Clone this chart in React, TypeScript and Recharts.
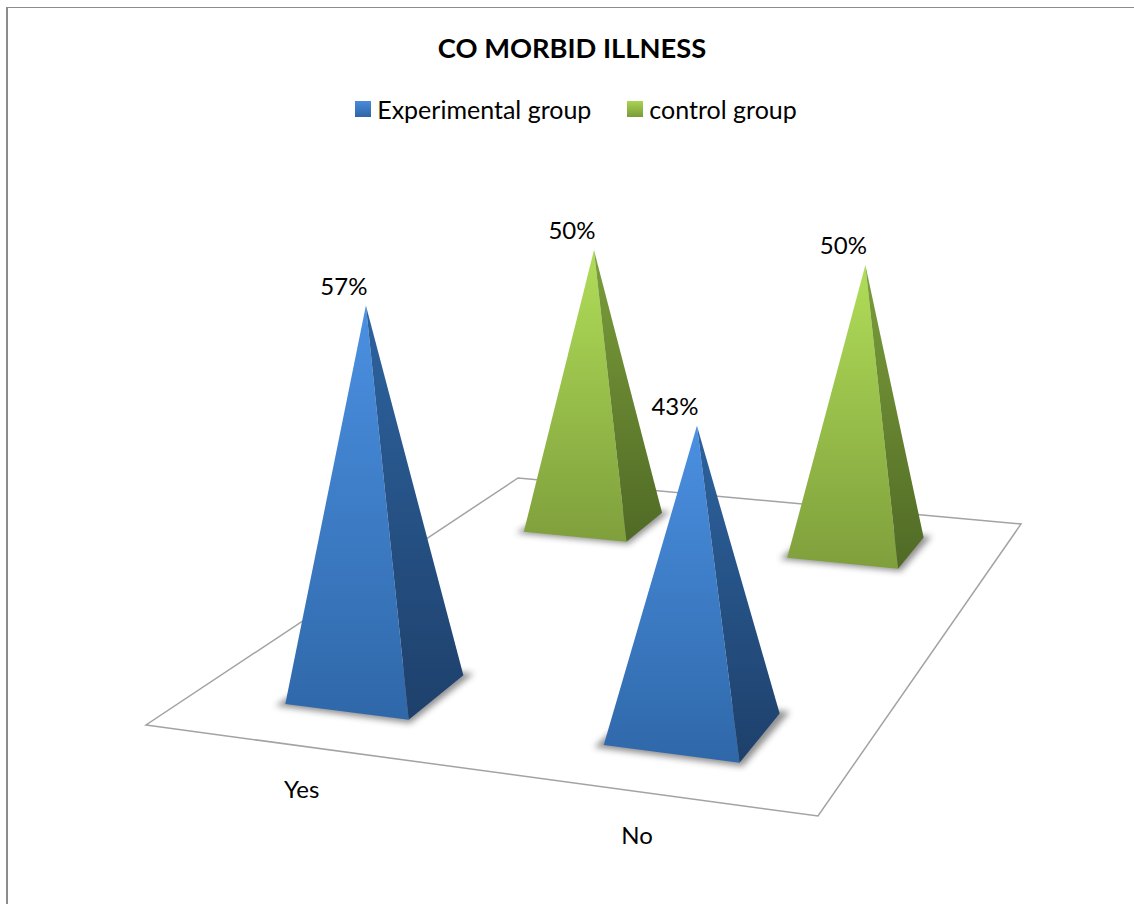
import React from 'react';
import { BarChart, Bar, XAxis, YAxis, Legend } from 'recharts';

const categories = ['Yes', 'No'];
const experimentalGroup = [57, 43];
const controlGroup = [50, 50];

const chartData = categories.map((name, i) => ({
  name,
  experimental: experimentalGroup[i],
  control: controlGroup[i],
}));

const WIDTH = 1134;
const HEIGHT = 904;
const PLOT_LEFT = 146;
const PLOT_WIDTH = 672;
const BAR_SIZE = 134;
const FONT = 'Lato, sans-serif';

// Floor of the 3D box, front-left corner first, going anticlockwise on screen
const FLOOR = [[146, 725], [818, 816], [1021, 524], [518, 478]];

// Maps floor coordinates (u along the categories, v along the series depth) to the screen
const makeFloorProjection = () => {
  const [[x0, y0], [x1, y1], [x2, y2], [x3, y3]] = FLOOR;
  const dx1 = x1 - x2, dx2 = x3 - x2, sx = x0 - x1 + x2 - x3;
  const dy1 = y1 - y2, dy2 = y3 - y2, sy = y0 - y1 + y2 - y3;
  const den = dx1 * dy2 - dx2 * dy1;
  const g = (sx * dy2 - dx2 * sy) / den;
  const h = (dx1 * sy - sx * dy1) / den;
  const a = x1 - x0 + g * x1, b = x3 - x0 + h * x3;
  const d = y1 - y0 + g * y1, e = y3 - y0 + h * y3;
  return (u: number, v: number) => {
    const w = g * u + h * v + 1;
    return { x: (a * u + b * v + x0) / w, y: (d * u + e * v + y0) / w, w };
  };
};
const project = makeFloorProjection();

const pts = (list: { x: number; y: number }[]) => list.map((p) => `${p.x},${p.y}`).join(' ');

type Palette = { front: string; side: string };

// Pyramid standing on the floor; its height comes from the bar height the y scale gave
const Pyramid = (props: any, depth: number, colors: Palette) => {
  const { x, width, height, value } = props;
  const uC = (x + width / 2 - PLOT_LEFT) / PLOT_WIDTH;
  const halfU = width / PLOT_WIDTH / 2;
  const halfV = 0.07;

  const fl = project(uC - halfU, depth - halfV);
  const fr = project(uC + halfU, depth - halfV);
  const br = project(uC + halfU, depth + halfV);
  const bl = project(uC - halfU, depth + halfV);
  const c = project(uC, depth);

  // verticals converge slightly towards the top of the box
  const h = height / c.w;
  const apex = { x: c.x + (c.x - 590) * h * 0.00012, y: c.y - h };

  const sf = project(uC - halfU * 1.1, depth - halfV * 1.12);
  const sr = project(uC + halfU * 1.08, depth - halfV * 1.12);
  const sb = project(uC + halfU * 1.12, depth + halfV * 1.12);
  const shadow = [sf, sr, sb, bl];

  return (
    <g>
      <polygon points={pts(shadow)} fill="#555" opacity={0.65} filter="url(#floorShadow)" />
      <polygon points={pts([fl, fr, apex])} fill={`url(#${colors.front})`} />
      <polygon points={pts([fr, br, apex])} fill={`url(#${colors.side})`} />
      <text
        x={apex.x - 22}
        y={apex.y - 17}
        textAnchor="middle"
        dominantBaseline="middle"
        fontFamily={FONT}
        fontSize={24}
        fill="#000"
      >
        {value}%
      </text>
    </g>
  );
};

const CategoryTick = (props: any) => {
  const { x, payload } = props;
  const edge = project((x - PLOT_LEFT) / PLOT_WIDTH, 0);
  return (
    <text
      x={edge.x}
      y={edge.y + 46}
      textAnchor="middle"
      dominantBaseline="middle"
      fontFamily={FONT}
      fontSize={24}
      fill="#000"
    >
      {payload.value}
    </text>
  );
};

// Series are painted back to front, the legend still lists the experimental group first
const GroupLegend = ({ payload }: any) => {
  const items = [...(payload || [])].sort((a: any) => (a.dataKey === 'experimental' ? -1 : 1));
  return (
    <div style={{ display: 'flex', justifyContent: 'center', gap: 36, fontFamily: FONT, fontSize: 25, paddingLeft: 18 }}>
      {items.map((item: any) => (
        <span key={item.value} style={{ display: 'flex', alignItems: 'center', gap: 6, color: '#000' }}>
          <span
            style={{
              width: 16,
              height: 16,
              background:
                item.dataKey === 'experimental'
                  ? 'linear-gradient(#4a8bdc, #2f65a5)'
                  : 'linear-gradient(#a9d452, #7b9a3a)',
            }}
          />
          {item.value}
        </span>
      ))}
    </div>
  );
};

const App: React.FC = () => (
  <div style={{ position: 'absolute', left: 0, top: 0, width: WIDTH, height: HEIGHT, overflow: 'hidden', background: '#fff' }}>
    <div style={{ position: 'absolute', left: 6, top: 7, right: 0, bottom: 0, borderLeft: '2px solid #8c8c8c', borderTop: '1.5px solid #8c8c8c' }} />
    <BarChart
      width={WIDTH}
      height={HEIGHT}
      data={chartData}
      margin={{ top: 100, left: PLOT_LEFT, right: WIDTH - PLOT_LEFT - PLOT_WIDTH, bottom: 324 }}
      barSize={BAR_SIZE}
      barGap={-BAR_SIZE}
      style={{ position: 'absolute', left: 0, top: 0 }}
    >
      <defs>
        <linearGradient id="blueFront" x1="0" y1="0" x2="0" y2="1">
          <stop offset="0" stopColor="#4b90e2" />
          <stop offset="1" stopColor="#2f68a9" />
        </linearGradient>
        <linearGradient id="blueSide" x1="0" y1="0" x2="0" y2="1">
          <stop offset="0" stopColor="#2d639f" />
          <stop offset="1" stopColor="#1e406b" />
        </linearGradient>
        <linearGradient id="greenFront" x1="0" y1="0" x2="0" y2="1">
          <stop offset="0" stopColor="#b0dd58" />
          <stop offset="1" stopColor="#7f9f3c" />
        </linearGradient>
        <linearGradient id="greenSide" x1="0" y1="0" x2="0" y2="1">
          <stop offset="0" stopColor="#7c9e3b" />
          <stop offset="1" stopColor="#506a25" />
        </linearGradient>
        <filter id="floorShadow" x="-20%" y="-20%" width="140%" height="140%">
          <feGaussianBlur stdDeviation="3" />
        </filter>
      </defs>
      <text x={572} y={51} textAnchor="middle" dominantBaseline="middle" fontFamily={FONT} fontSize={27.3} fontWeight={700} fill="#000">
        CO MORBID ILLNESS
      </text>
      <polygon points={FLOOR.map((p) => p.join(',')).join(' ')} fill="none" stroke="#a3a3a3" strokeWidth={1.5} />
      <XAxis dataKey="name" height={30} axisLine={false} tickLine={false} tick={CategoryTick} />
      <YAxis hide domain={[0, 60]} />
      <Legend
        verticalAlign="top"
        height={30}
        content={GroupLegend}
        wrapperStyle={{ top: 94, left: 0, width: WIDTH - 0 }}
      />
      <Bar
        dataKey="control"
        name="control group"
        fill="#9bbb59"
        isAnimationActive={false}
        shape={(p: any) => Pyramid(p, 0.83, { front: 'greenFront', side: 'greenSide' })}
      />
      <Bar
        dataKey="experimental"
        name="Experimental group"
        fill="#4f81bd"
        isAnimationActive={false}
        shape={(p: any) => Pyramid(p, 0.17, { front: 'blueFront', side: 'blueSide' })}
      />
    </BarChart>
  </div>
);

export default App;
